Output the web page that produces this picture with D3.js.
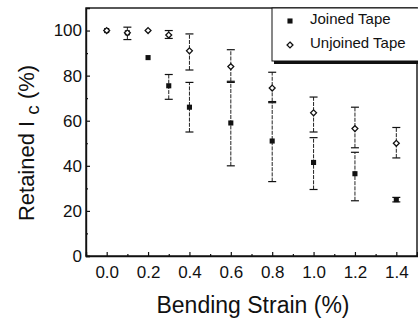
<!DOCTYPE html>
<html>
<head>
<meta charset="utf-8">
<script src="https://cdn.jsdelivr.net/npm/d3@7"></script>
<style>
  body { margin: 0; background: #fff; }
  svg { display: block; font-family: "Liberation Sans", Arial, sans-serif; }
</style>
</head>
<body>
<div class="chart"><svg></svg></div>
<script>
"use strict";

const strain = [0.0, 0.1, 0.2, 0.3, 0.4, 0.6, 0.8, 1.0, 1.2, 1.4];

// Joined tape
const joinedVal = [100, 99, 88, 75.5, 66, 59, 51, 41.5, 36.5, 25];
const joinedLo  = [100, 99, 88, 69.5, 55, 40, 33, 29.5, 24.5, 24];
const joinedHi  = [100, 99, 88, 80.5, 77, 77, 68, 52.5, 46, 26];

// Unjoined tape
const unjoinedVal = [100, 99, 100, 98, 91, 84, 74.5, 63.5, 56.5, 50];
const unjoinedLo  = [100, 96, 100, 96.5, 82.5, 77.5, 68.5, 55, 48, 43.5];
const unjoinedHi  = [100, 101.5, 100, 100, 98.5, 91.5, 81.5, 70.5, 66, 57];

const xTicks = [0.0, 0.2, 0.4, 0.6, 0.8, 1.0, 1.2, 1.4];
const yTicks = [0, 20, 40, 60, 80, 100];
const seriesNames = ["Joined Tape", "Unjoined Tape"];

const W = 418, H = 321;
const L = 86, T = 8, R = 417, B = 256;

const svg = d3.select('.chart').select('svg')
    .attr('width', W)
    .attr('height', H);

const x = d3.scaleLinear().domain([-0.1, 1.5]).range([L, R]);
const y = d3.scaleLinear().domain([0, 110]).range([B, T]);

// frame
svg.append('rect')
    .attr('x', L).attr('y', T)
    .attr('width', R - L).attr('height', B - T)
    .attr('fill', 'none')
    .attr('stroke', '#111')
    .attr('stroke-width', 1.4);

// bottom axis
const gx = svg.append('g')
    .attr('transform', `translate(0,${B})`)
    .call(d3.axisBottom(x).tickValues(xTicks).tickSize(-4).tickPadding(10)
        .tickFormat(d3.format('.1f')));
svg.append('g')
    .attr('transform', `translate(0,${B})`)
    .call(d3.axisBottom(x).tickValues(d3.range(-0.1, 1.51, 0.2).map(v => +v.toFixed(1)))
        .tickSize(-2).tickFormat(''))
    .call(g => g.select('.domain').remove());

// left axis
const gy = svg.append('g')
    .attr('transform', `translate(${L},0)`)
    .call(d3.axisLeft(y).tickValues(yTicks).tickSize(-4).tickPadding(4));
svg.append('g')
    .attr('transform', `translate(${L},0)`)
    .call(d3.axisLeft(y).tickValues([10, 30, 50, 70, 90]).tickSize(-2).tickFormat(''))
    .call(g => g.select('.domain').remove());

svg.selectAll('.domain').attr('stroke', '#111').attr('stroke-width', 1.4);
svg.selectAll('.tick line').attr('stroke', '#111').attr('stroke-width', 1.2);
gx.selectAll('text').attr('font-size', 17).attr('font-family', '"Liberation Sans", Arial, sans-serif').attr('fill', '#111');
gy.selectAll('text').attr('font-size', 17).attr('font-family', '"Liberation Sans", Arial, sans-serif').attr('fill', '#111');

// error bars
function drawErrors(lo, hi) {
    const g = svg.append('g');
    const data = strain.map((s, i) => ({s, lo: lo[i], hi: hi[i]})).filter(d => d.hi > d.lo);
    g.selectAll('line.v')
        .data(data)
        .join('line')
        .attr('class', 'v')
        .attr('x1', d => x(d.s)).attr('x2', d => x(d.s))
        .attr('y1', d => y(d.lo)).attr('y2', d => y(d.hi))
        .attr('stroke', '#222')
        .attr('stroke-width', 1)
        .attr('stroke-dasharray', '4,1.2');
    ['lo', 'hi'].forEach(k => {
        g.selectAll('line.' + k)
            .data(data)
            .join('line')
            .attr('class', k)
            .attr('x1', d => x(d.s) - 4).attr('x2', d => x(d.s) + 4)
            .attr('y1', d => y(d[k])).attr('y2', d => y(d[k]))
            .attr('stroke', '#111')
            .attr('stroke-width', 1.2);
    });
}
drawErrors(joinedLo, joinedHi);
drawErrors(unjoinedLo, unjoinedHi);

const square = d3.symbol().type(d3.symbolSquare).size(26);
const diamond = d3.symbol().type(d3.symbolDiamond2).size(22);

svg.append('g').selectAll('path')
    .data(strain.map((s, i) => [s, joinedVal[i]]))
    .join('path')
    .attr('d', square)
    .attr('transform', d => `translate(${x(d[0])},${y(d[1])})`)
    .attr('fill', '#111');

svg.append('g').selectAll('path')
    .data(strain.map((s, i) => [s, unjoinedVal[i]]))
    .join('path')
    .attr('d', diamond)
    .attr('transform', d => `translate(${x(d[0])},${y(d[1])})`)
    .attr('fill', '#fff')
    .attr('stroke', '#111')
    .attr('stroke-width', 1.3);

// legend (box runs off the right edge, thick shadow at the bottom)
const lg = svg.append('g');
lg.append('rect')
    .attr('x', 274).attr('y', T + 2).attr('width', 160).attr('height', 54)
    .attr('fill', '#111');
lg.append('rect')
    .attr('x', 272).attr('y', T).attr('width', 160).attr('height', 53)
    .attr('fill', '#fff')
    .attr('stroke', '#111')
    .attr('stroke-width', 1);
lg.append('path')
    .attr('d', square)
    .attr('transform', 'translate(290,21)')
    .attr('fill', '#111');
lg.append('path')
    .attr('d', diamond)
    .attr('transform', 'translate(290,45)')
    .attr('fill', '#fff')
    .attr('stroke', '#111')
    .attr('stroke-width', 1.3);
lg.selectAll('text')
    .data(seriesNames)
    .join('text')
    .attr('x', 310)
    .attr('y', (d, i) => 24 + i * 24)
    .attr('font-size', 15)
    .attr('fill', '#111')
    .text(d => d);

// axis titles
svg.append('text')
    .attr('x', 253).attr('y', 313)
    .attr('text-anchor', 'middle')
    .attr('font-size', 23)
    .attr('fill', '#111')
    .text('Bending Strain (%)');

const yt = svg.append('text')
    .attr('transform', 'translate(34,143) rotate(-90)')
    .attr('text-anchor', 'middle')
    .attr('font-size', 22)
    .attr('fill', '#111');
yt.append('tspan').text('Retained I ');
yt.append('tspan').attr('dy', 5).attr('font-size', 19).text(' c');
yt.append('tspan').attr('dy', -5).text(' (%)');
</script>
</body>
</html>
